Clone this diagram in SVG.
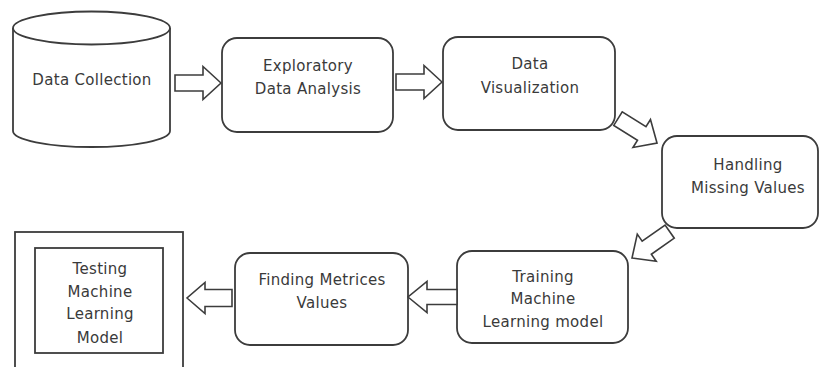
<svg xmlns="http://www.w3.org/2000/svg" width="821" height="367" viewBox="0 0 821 367">
<style>
.shape{fill:#fff;stroke:#3c3c3c;stroke-width:1.8}
.arrow{fill:#fff;stroke:#3c3c3c;stroke-width:1.6;stroke-linejoin:miter}
text{font-family:"DejaVu Sans","Liberation Sans",sans-serif;font-size:15px;fill:#3a3a3a;text-anchor:middle;letter-spacing:0.3px}
</style>
<defs>
<polygon id="arr" class="arrow" points="0,0 -18,-16.5 -18,-8 -46,-8 -46,8 -18,8 -18,16.5"/>
</defs>
<rect width="821" height="367" fill="#fff"/>
<g id="data-collection">
<path class="shape" d="M13,28 L13,131 A78.5,16 0 0 0 170,131 L170,28"/>
<ellipse class="shape" cx="91.5" cy="28" rx="78.5" ry="16.5"/>
<text x="92" y="85">Data Collection</text>
</g>
<g id="eda">
<rect class="shape" x="222" y="38" width="171" height="94" rx="15"/>
<text x="308" y="71">Exploratory</text>
<text x="308" y="94">Data Analysis</text>
</g>
<g id="data-vis">
<rect class="shape" x="443" y="37" width="172" height="93" rx="15"/>
<text x="530" y="69">Data</text>
<text x="530" y="93">Visualization</text>
</g>
<g id="missing">
<rect class="shape" x="662" y="136" width="156" height="92" rx="15"/>
<text x="748" y="170">Handling</text>
<text x="748" y="193">Missing Values</text>
</g>
<g id="training">
<rect class="shape" x="457" y="251" width="171" height="92" rx="15"/>
<text x="543" y="282">Training</text>
<text x="543" y="304">Machine</text>
<text x="543" y="327">Learning model</text>
</g>
<g id="metrics">
<rect class="shape" x="235" y="253" width="173" height="92" rx="15"/>
<text x="322" y="285">Finding Metrices</text>
<text x="322" y="308">Values</text>
</g>
<g id="testing">
<rect class="shape" x="15" y="232" width="168" height="145"/>
<rect class="shape" x="35" y="248" width="128" height="105"/>
<text x="100" y="274">Testing</text>
<text x="100" y="297">Machine</text>
<text x="100" y="319">Learning</text>
<text x="100" y="343">Model</text>
</g>
<g id="connectors">
<use href="#arr" transform="translate(221,83)"/>
<use href="#arr" transform="translate(442,82)"/>
<use href="#arr" transform="translate(657,143) rotate(32)"/>
<use href="#arr" transform="translate(632,258) rotate(145)"/>
<polygon class="arrow" transform="translate(408,297) rotate(180)" points="0,0 -19,-15.5 -19,-7.5 -49,-7.5 -49,7.5 -19,7.5 -19,15.5"/>
<polygon class="arrow" transform="translate(187,298) rotate(180)" points="0,0 -18,-15.5 -18,-8.5 -45,-8.5 -45,8.5 -18,8.5 -18,15.5"/>
</g>
</svg>
